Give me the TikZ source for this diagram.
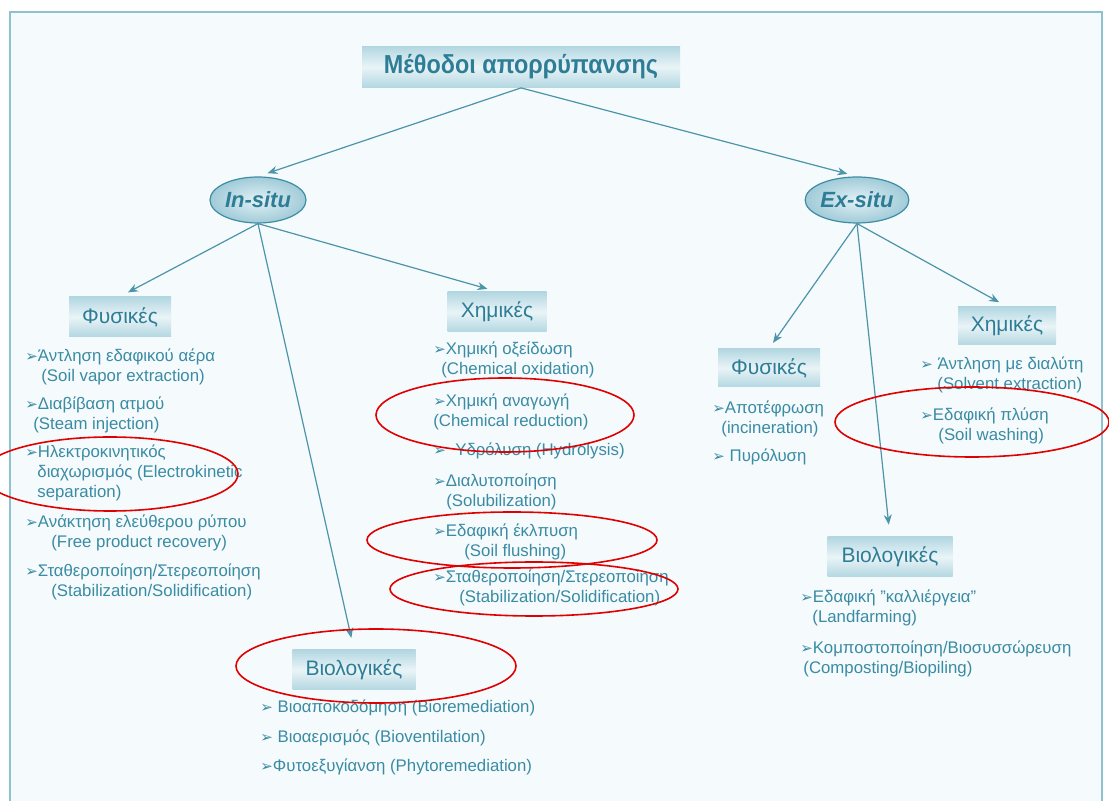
\documentclass[tikz,border=0pt]{standalone}
\usepackage{fontspec}
\setmainfont{Liberation Sans}
\newfontfamily\titlefont[FakeStretch=0.9]{Liberation Sans}
\newfontfamily\markfont{DejaVu Sans}
\usetikzlibrary{arrows.meta,shapes.geometric}
\definecolor{framefill}{HTML}{F5FAFC}
\definecolor{framedraw}{HTML}{8EC2D1}
\definecolor{wire}{HTML}{4B94AA}
\definecolor{body}{HTML}{3A8BA4}
\definecolor{head}{HTML}{2E7D96}
\definecolor{boxedge}{HTML}{B3D7E1}
\definecolor{boxmid}{HTML}{E9F4F7}
\definecolor{bubin}{HTML}{E3F1F5}
\definecolor{bubout}{HTML}{A0CBD8}
\definecolor{rim}{HTML}{3F8DA4}
\definecolor{ring}{HTML}{E00000}
\newcommand{\itemmark}{{\markfont\fontsize{7.5}{7.5}\selectfont ➢}}
\tikzset{catbox/.style={top color=boxedge,bottom color=boxedge,middle color=boxmid,draw=none,
 font=\fontsize{10.5}{12}\selectfont,text=head,minimum height=20pt,inner sep=0pt},
 titlebox/.style={catbox,minimum width=159pt,minimum height=20.5pt,
 font=\titlefont\bfseries\fontsize{13}{15}\selectfont},
 sitebubble/.style={ellipse,draw=rim,line width=0.6pt,inner color=bubin,outer color=bubout,
 minimum width=48pt,minimum height=23pt,inner sep=0pt,text=head,
 font=\bfseries\itshape\fontsize{11}{13}\selectfont},
 itemtext/.style={anchor=base west,inner sep=0pt,align=left,text=body,font=\fontsize{8.4}{10}\selectfont},
 linkarrow/.style={-{Stealth[length=5pt,width=4pt]},draw=wire,line width=0.6pt},
 markring/.style={draw=ring,line width=0.8pt}}
\begin{document}
\begin{tikzpicture}[x=0.5pt,y=-0.5pt]
\useasboundingbox (0,0) rectangle (1109,801);
\fill[white] (0,0) rectangle (1109,801);
\filldraw[fill=framefill,draw=framedraw,line width=1.2pt] (10,801)--(10,12)--(1102,12)--(1102,801);
\node[titlebox] (title) at (521,67) {Μέθοδοι απορρύπανσης};
\node[sitebubble] (insitu) at (258,200) {In-situ};
\node[sitebubble] (exsitu) at (857,200) {Ex-situ};
\node[catbox,minimum width=51pt] (physin) at (120,317) {Φυσικές};
\node[catbox,minimum width=49.5pt] (chemin) at (497,312) {Χημικές};
\node[catbox,minimum width=61.5pt] (bioin) at (354,670) {Βιολογικές};
\node[catbox,minimum width=51pt,minimum height=19pt] (physex) at (769,368) {Φυσικές};
\node[catbox,minimum width=49pt,minimum height=19pt] (chemex) at (1007,326) {Χημικές};
\node[catbox,minimum width=62.5pt] (bioex) at (890,557) {Βιολογικές};
\draw[linkarrow,shorten >=5pt] (title.south) -- (insitu.north);
\draw[linkarrow,shorten >=5pt] (title.south) -- (exsitu.north);
\draw[linkarrow,shorten >=4.5pt] (insitu.south) -- (physin.north);
\draw[linkarrow,shorten >=6pt] (insitu.south) -- (bioin.north);
\draw[linkarrow,shorten >=5pt] (insitu.south) -- (chemin.north);
\draw[linkarrow,shorten >=3.5pt] (exsitu.south) -- (physex.north);
\draw[linkarrow,shorten >=6pt] (exsitu.south) -- (bioex.north);
\draw[linkarrow,shorten >=4.5pt] (exsitu.south) -- (chemex.north);
\node[itemtext] (physin1) at (25,382) {\itemmark Άντληση εδαφικού αέρα\\\hspace*{8pt}(Soil vapor extraction)};
\node[itemtext] (physin2) at (25,430) {\itemmark Διαβίβαση ατμού\\\hspace*{4pt}(Steam injection)};
\node[itemtext] (physin3) at (25,498) {\itemmark Ηλεκτροκινητικός\\\hspace*{6pt}διαχωρισμός (Electrokinetic\\\hspace*{6pt}separation)};
\node[itemtext] (physin4) at (25,548) {\itemmark Ανάκτηση ελεύθερου ρύπου\\\hspace*{13pt}(Free product recovery)};
\node[itemtext] (physin5) at (25,597) {\itemmark Σταθεροποίηση/Στερεοποίηση\\\hspace*{13pt}(Stabilization/Solidification)};
\node[itemtext] (chemin1) at (433,375) {\itemmark Χημική οξείδωση\\\hspace*{4pt}(Chemical oxidation)};
\node[itemtext] (chemin2) at (433,427) {\itemmark Χημική αναγωγή\\(Chemical reduction)};
\node[itemtext] (chemin3) at (433,456) {\itemmark\ \ Υδρόλυση (Hydrolysis)};
\node[itemtext] (chemin4) at (433,507) {\itemmark Διαλυτοποίηση\\\hspace*{6.5pt}(Solubilization)};
\node[itemtext] (chemin5) at (433,557) {\itemmark Εδαφική έκλπυση\\\hspace*{15.5pt}(Soil flushing)};
\node[itemtext] (chemin6) at (433,603) {\itemmark Σταθεροποίηση/Στερεοποίηση\\\hspace*{13pt}(Stabilization/Solidification)};
\node[itemtext] (bioin1) at (260,713) {\itemmark\ Βιοαποκοδόμηση (Bioremediation)};
\node[itemtext] (bioin2) at (260,743) {\itemmark\ Βιοαερισμός (Bioventilation)};
\node[itemtext] (bioin3) at (260,772) {\itemmark Φυτοεξυγίανση (Phytoremediation)};
\node[itemtext] (physex1) at (712,434) {\itemmark Αποτέφρωση\\\hspace*{4.5pt}(incineration)};
\node[itemtext] (physex2) at (712,462) {\itemmark\ Πυρόλυση};
\node[itemtext] (chemex1) at (920,390) {\itemmark\ Άντληση με διαλύτη\\\hspace*{8.5pt}(Solvent extraction)};
\node[itemtext] (chemex2) at (920,441) {\itemmark Εδαφική πλύση\\\hspace*{9pt}(Soil washing)};
\node[itemtext] (bioex1) at (800,623) {\itemmark Εδαφική "καλλιέργεια"\\\hspace*{6pt}(Landfarming)};
\node[itemtext] (bioex2) at (800,674) {\itemmark Κομποστοποίηση/Βιοσυσσώρευση\\\hspace*{1.5pt}(Composting/Biopiling)};
\draw[markring] (110,474) ellipse [x radius=64pt,y radius=18.5pt];
\draw[markring] (505,415) ellipse [x radius=64.5pt,y radius=18.5pt];
\draw[markring] (512,540) ellipse [x radius=72.5pt,y radius=14pt];
\draw[markring] (534,589) ellipse [x radius=72pt,y radius=13.5pt];
\draw[markring] (972,422) ellipse [x radius=68.5pt,y radius=17.5pt];
\draw[markring] (376,666) ellipse [x radius=70pt,y radius=18.5pt];
\end{tikzpicture}
\end{document}
